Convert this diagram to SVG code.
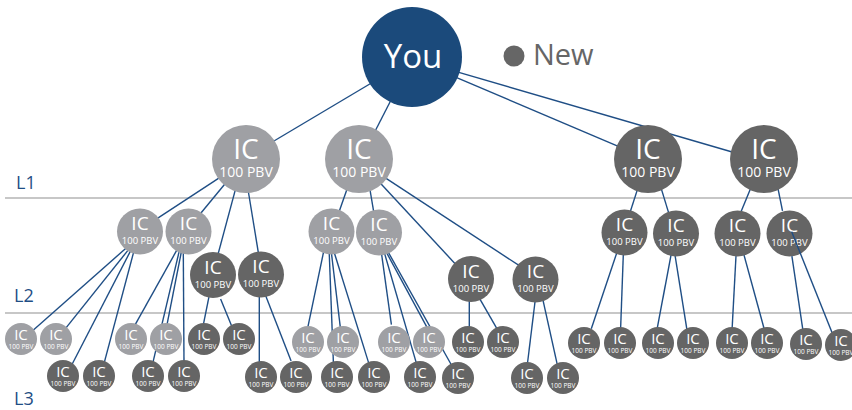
<svg xmlns="http://www.w3.org/2000/svg" width="852" height="410" viewBox="0 0 852 410">
<style>
.bg{fill:#fff}
.lv{stroke:#b4b4b4;stroke-width:1.4}
.lab{fill:#1f4e85;font-family:"Open Sans","Noto Sans",sans-serif;font-size:18px}
.c{stroke:#1f4e85;stroke-width:1.4;fill:none}
.you{fill:#1b4a7b}
.lt{fill:#9fa0a4}
.dk{fill:#656565}
.w{fill:#fff;font-family:"Open Sans","Noto Sans",sans-serif;text-anchor:middle}
.i1{font-size:28px}.p1{font-size:14px}
.i2{font-size:19px}.p2{font-size:9.5px}
.i3{font-size:15px}.p3{font-size:6.5px}
</style>
<rect class="bg" x="0" y="0" width="852" height="410"/>
<g id="levels">
<line class="lv" x1="5" y1="198" x2="852" y2="198"/>
<line class="lv" x1="5" y1="313" x2="852" y2="313"/>
<text class="lab" x="16" y="189">L1</text>
<text class="lab" x="14" y="302">L2</text>
<text class="lab" x="14" y="405">L3</text>
</g>
<g id="legend">
<circle cx="514" cy="56" r="10.5" fill="#666"/>
<text x="533" y="65" fill="#666" font-family="'Open Sans','Noto Sans',sans-serif" font-size="29">New</text>
</g>
<g id="l2-c4"><circle class="dk" cx="789.5" cy="233.5" r="23"/><text class="w i2" x="789.5" y="232">IC</text><text class="w p2" x="789.5" y="246">100 PBV</text></g>
<g id="connectors">
<line class="c" x1="370.6" y1="83.5" x2="273.1" y2="141.5"/>
<line class="c" x1="390.4" y1="101.3" x2="375.3" y2="130.7"/>
<line class="c" x1="455.5" y1="77.1" x2="619.5" y2="146.9"/>
<line class="c" x1="457.1" y1="71.9" x2="733.9" y2="152.5"/>
<line class="c" x1="221.5" y1="176.4" x2="155.5" y2="219.6"/>
<line class="c" x1="225.9" y1="182.7" x2="199.1" y2="215.3"/>
<line class="c" x1="235.8" y1="188.1" x2="217.5" y2="256.2"/>
<line class="c" x1="248" y1="189.5" x2="258.8" y2="255.3"/>
<line class="c" x1="347.5" y1="187.7" x2="339" y2="212.1"/>
<line class="c" x1="369.7" y1="188" x2="373.8" y2="212.3"/>
<line class="c" x1="379.5" y1="182.3" x2="456.7" y2="265.4"/>
<line class="c" x1="384.2" y1="177.2" x2="520.9" y2="266.7"/>
<line class="c" x1="638.2" y1="187.1" x2="630.1" y2="212.2"/>
<line class="c" x1="660.8" y1="187.1" x2="669.2" y2="214.6"/>
<line class="c" x1="751.1" y1="187.2" x2="740.6" y2="212.8"/>
<line class="c" x1="777.7" y1="187.1" x2="782.5" y2="210.8"/>
<line class="c" x1="126.2" y1="248" x2="32" y2="331.3"/>
<line class="c" x1="127.9" y1="250.4" x2="63.8" y2="330.6"/>
<line class="c" x1="130.7" y1="250.6" x2="70.3" y2="367.7"/>
<line class="c" x1="134.1" y1="250.4" x2="104.2" y2="362.9"/>
<line class="c" x1="176.5" y1="250.7" x2="134.5" y2="325.9"/>
<line class="c" x1="179" y1="252.1" x2="152.6" y2="363.9"/>
<line class="c" x1="181.3" y1="252.1" x2="166.7" y2="326.2"/>
<line class="c" x1="183.3" y1="252" x2="184" y2="364"/>
<line class="c" x1="208.9" y1="297.1" x2="202.7" y2="327.9"/>
<line class="c" x1="220.6" y1="298.9" x2="232.8" y2="328.8"/>
<line class="c" x1="259.3" y1="297" x2="259.3" y2="365"/>
<line class="c" x1="265.6" y1="295.5" x2="291.1" y2="361.1"/>
<line class="c" x1="323.9" y1="250.4" x2="307.7" y2="327.9"/>
<line class="c" x1="329.2" y1="252" x2="333.4" y2="363"/>
<line class="c" x1="331.3" y1="252" x2="340.4" y2="328"/>
<line class="c" x1="334.1" y1="252.1" x2="369.2" y2="364.6"/>
<line class="c" x1="381.3" y1="252" x2="391.4" y2="324.7"/>
<line class="c" x1="384.2" y1="252.1" x2="416.8" y2="364.6"/>
<line class="c" x1="385.9" y1="251.4" x2="428.1" y2="329.3"/>
<line class="c" x1="387.8" y1="251.4" x2="452" y2="366"/>
<line class="c" x1="469.3" y1="298.7" x2="469.3" y2="329"/>
<line class="c" x1="478.5" y1="296.7" x2="498.2" y2="330.9"/>
<line class="c" x1="535.4" y1="298.7" x2="526.9" y2="368"/>
<line class="c" x1="542.7" y1="298.8" x2="558" y2="367.9"/>
<line class="c" x1="617" y1="252.2" x2="591.3" y2="328.8"/>
<line class="c" x1="623.4" y1="252" x2="620.6" y2="329"/>
<line class="c" x1="671.6" y1="252" x2="657.1" y2="329"/>
<line class="c" x1="674.5" y1="252" x2="687.2" y2="331.3"/>
<line class="c" x1="736.2" y1="252" x2="732.1" y2="329"/>
<line class="c" x1="743.2" y1="252.1" x2="764.8" y2="331.2"/>
<line class="c" x1="791.9" y1="256.2" x2="803.1" y2="331.3"/>
<line class="c" x1="791.7" y1="231.7" x2="832.8" y2="334.5"/>
</g>
<g id="you"><circle class="you" cx="412" cy="57" r="50"/><text class="w" x="413" y="68" font-size="33">You</text></g>
<g id="l1-1"><circle class="lt" cx="246" cy="159" r="34"/><text class="w i1" x="246" y="158.5">IC</text><text class="w p1" x="246" y="177">100 PBV</text></g>
<g id="l1-2"><circle class="lt" cx="359" cy="159" r="34"/><text class="w i1" x="359" y="158.5">IC</text><text class="w p1" x="359" y="177">100 PBV</text></g>
<g id="l1-3"><circle class="dk" cx="648" cy="159" r="34"/><text class="w i1" x="648" y="158.5">IC</text><text class="w p1" x="648" y="177">100 PBV</text></g>
<g id="l1-4"><circle class="dk" cx="764" cy="159" r="34"/><text class="w i1" x="764" y="158.5">IC</text><text class="w p1" x="764" y="177">100 PBV</text></g>
<g id="l2-a1"><circle class="lt" cx="140" cy="231.5" r="23"/><text class="w i2" x="140" y="230">IC</text><text class="w p2" x="140" y="244">100 PBV</text></g>
<g id="l2-a2"><circle class="lt" cx="188.5" cy="231.5" r="23"/><text class="w i2" x="188.5" y="230">IC</text><text class="w p2" x="188.5" y="244">100 PBV</text></g>
<g id="l2-a3"><circle class="dk" cx="213" cy="275" r="23"/><text class="w i2" x="213" y="273.5">IC</text><text class="w p2" x="213" y="287.5">100 PBV</text></g>
<g id="l2-a4"><circle class="dk" cx="261" cy="274.5" r="23"/><text class="w i2" x="261" y="273">IC</text><text class="w p2" x="261" y="287">100 PBV</text></g>
<g id="l2-b1"><circle class="lt" cx="331.5" cy="231.5" r="23"/><text class="w i2" x="331.5" y="230">IC</text><text class="w p2" x="331.5" y="244">100 PBV</text></g>
<g id="l2-b2"><circle class="lt" cx="379" cy="232.5" r="23"/><text class="w i2" x="379" y="231">IC</text><text class="w p2" x="379" y="245">100 PBV</text></g>
<g id="l2-b3"><circle class="dk" cx="471" cy="279" r="23"/><text class="w i2" x="471" y="277.5">IC</text><text class="w p2" x="471" y="291.5">100 PBV</text></g>
<g id="l2-b4"><circle class="dk" cx="535.5" cy="279.5" r="23"/><text class="w i2" x="535.5" y="278">IC</text><text class="w p2" x="535.5" y="292">100 PBV</text></g>
<g id="l2-c1"><circle class="dk" cx="624.5" cy="232.5" r="23"/><text class="w i2" x="624.5" y="231">IC</text><text class="w p2" x="624.5" y="245">100 PBV</text></g>
<g id="l2-c2"><circle class="dk" cx="676" cy="233.5" r="23"/><text class="w i2" x="676" y="232">IC</text><text class="w p2" x="676" y="246">100 PBV</text></g>
<g id="l2-c3"><circle class="dk" cx="737.5" cy="233.5" r="23"/><text class="w i2" x="737.5" y="232">IC</text><text class="w p2" x="737.5" y="246">100 PBV</text></g>
<g id="l3-01"><circle class="lt" cx="21" cy="339" r="16"/><text class="w i3" x="21" y="340">IC</text><text class="w p3" x="21" y="348.5">100 PBV</text></g>
<g id="l3-02"><circle class="lt" cx="56" cy="339" r="16"/><text class="w i3" x="56" y="340">IC</text><text class="w p3" x="56" y="348.5">100 PBV</text></g>
<g id="l3-03"><circle class="lt" cx="131" cy="339" r="16"/><text class="w i3" x="131" y="340">IC</text><text class="w p3" x="131" y="348.5">100 PBV</text></g>
<g id="l3-04"><circle class="lt" cx="166" cy="339" r="16"/><text class="w i3" x="166" y="340">IC</text><text class="w p3" x="166" y="348.5">100 PBV</text></g>
<g id="l3-05"><circle class="dk" cx="204" cy="339" r="16"/><text class="w i3" x="204" y="340">IC</text><text class="w p3" x="204" y="348.5">100 PBV</text></g>
<g id="l3-06"><circle class="dk" cx="239" cy="339" r="16"/><text class="w i3" x="239" y="340">IC</text><text class="w p3" x="239" y="348.5">100 PBV</text></g>
<g id="l3-07"><circle class="lt" cx="308" cy="342" r="16"/><text class="w i3" x="308" y="343">IC</text><text class="w p3" x="308" y="351.5">100 PBV</text></g>
<g id="l3-08"><circle class="lt" cx="343" cy="342" r="16"/><text class="w i3" x="343" y="343">IC</text><text class="w p3" x="343" y="351.5">100 PBV</text></g>
<g id="l3-09"><circle class="lt" cx="394" cy="342" r="16"/><text class="w i3" x="394" y="343">IC</text><text class="w p3" x="394" y="351.5">100 PBV</text></g>
<g id="l3-10"><circle class="lt" cx="429" cy="342" r="16"/><text class="w i3" x="429" y="343">IC</text><text class="w p3" x="429" y="351.5">100 PBV</text></g>
<g id="l3-11"><circle class="dk" cx="468" cy="342" r="16"/><text class="w i3" x="468" y="343">IC</text><text class="w p3" x="468" y="351.5">100 PBV</text></g>
<g id="l3-12"><circle class="dk" cx="503" cy="342" r="16"/><text class="w i3" x="503" y="343">IC</text><text class="w p3" x="503" y="351.5">100 PBV</text></g>
<g id="l3-13"><circle class="dk" cx="584" cy="343" r="16"/><text class="w i3" x="584" y="344">IC</text><text class="w p3" x="584" y="352.5">100 PBV</text></g>
<g id="l3-14"><circle class="dk" cx="620" cy="343" r="16"/><text class="w i3" x="620" y="344">IC</text><text class="w p3" x="620" y="352.5">100 PBV</text></g>
<g id="l3-15"><circle class="dk" cx="658" cy="343" r="16"/><text class="w i3" x="658" y="344">IC</text><text class="w p3" x="658" y="352.5">100 PBV</text></g>
<g id="l3-16"><circle class="dk" cx="693" cy="343" r="16"/><text class="w i3" x="693" y="344">IC</text><text class="w p3" x="693" y="352.5">100 PBV</text></g>
<g id="l3-17"><circle class="dk" cx="732" cy="343" r="16"/><text class="w i3" x="732" y="344">IC</text><text class="w p3" x="732" y="352.5">100 PBV</text></g>
<g id="l3-18"><circle class="dk" cx="767" cy="343" r="16"/><text class="w i3" x="767" y="344">IC</text><text class="w p3" x="767" y="352.5">100 PBV</text></g>
<g id="l3-19"><circle class="dk" cx="806" cy="344" r="16"/><text class="w i3" x="806" y="345">IC</text><text class="w p3" x="806" y="353.5">100 PBV</text></g>
<g id="l3-20"><circle class="dk" cx="841" cy="345" r="16"/><text class="w i3" x="841" y="346">IC</text><text class="w p3" x="841" y="354.5">100 PBV</text></g>
<g id="l3-21"><circle class="dk" cx="63" cy="376" r="16"/><text class="w i3" x="63" y="377">IC</text><text class="w p3" x="63" y="385.5">100 PBV</text></g>
<g id="l3-22"><circle class="dk" cx="99" cy="376" r="16"/><text class="w i3" x="99" y="377">IC</text><text class="w p3" x="99" y="385.5">100 PBV</text></g>
<g id="l3-23"><circle class="dk" cx="148" cy="376" r="16"/><text class="w i3" x="148" y="377">IC</text><text class="w p3" x="148" y="385.5">100 PBV</text></g>
<g id="l3-24"><circle class="dk" cx="184" cy="376" r="16"/><text class="w i3" x="184" y="377">IC</text><text class="w p3" x="184" y="385.5">100 PBV</text></g>
<g id="l3-25"><circle class="dk" cx="261" cy="377" r="16"/><text class="w i3" x="261" y="378">IC</text><text class="w p3" x="261" y="386.5">100 PBV</text></g>
<g id="l3-26"><circle class="dk" cx="296" cy="377" r="16"/><text class="w i3" x="296" y="378">IC</text><text class="w p3" x="296" y="386.5">100 PBV</text></g>
<g id="l3-27"><circle class="dk" cx="337" cy="377" r="16"/><text class="w i3" x="337" y="378">IC</text><text class="w p3" x="337" y="386.5">100 PBV</text></g>
<g id="l3-28"><circle class="dk" cx="374" cy="377" r="16"/><text class="w i3" x="374" y="378">IC</text><text class="w p3" x="374" y="386.5">100 PBV</text></g>
<g id="l3-29"><circle class="dk" cx="420" cy="377" r="16"/><text class="w i3" x="420" y="378">IC</text><text class="w p3" x="420" y="386.5">100 PBV</text></g>
<g id="l3-30"><circle class="dk" cx="458" cy="378" r="16"/><text class="w i3" x="458" y="379">IC</text><text class="w p3" x="458" y="387.5">100 PBV</text></g>
<g id="l3-31"><circle class="dk" cx="527" cy="378" r="16"/><text class="w i3" x="527" y="379">IC</text><text class="w p3" x="527" y="387.5">100 PBV</text></g>
<g id="l3-32"><circle class="dk" cx="563" cy="378" r="16"/><text class="w i3" x="563" y="379">IC</text><text class="w p3" x="563" y="387.5">100 PBV</text></g>
</svg>
